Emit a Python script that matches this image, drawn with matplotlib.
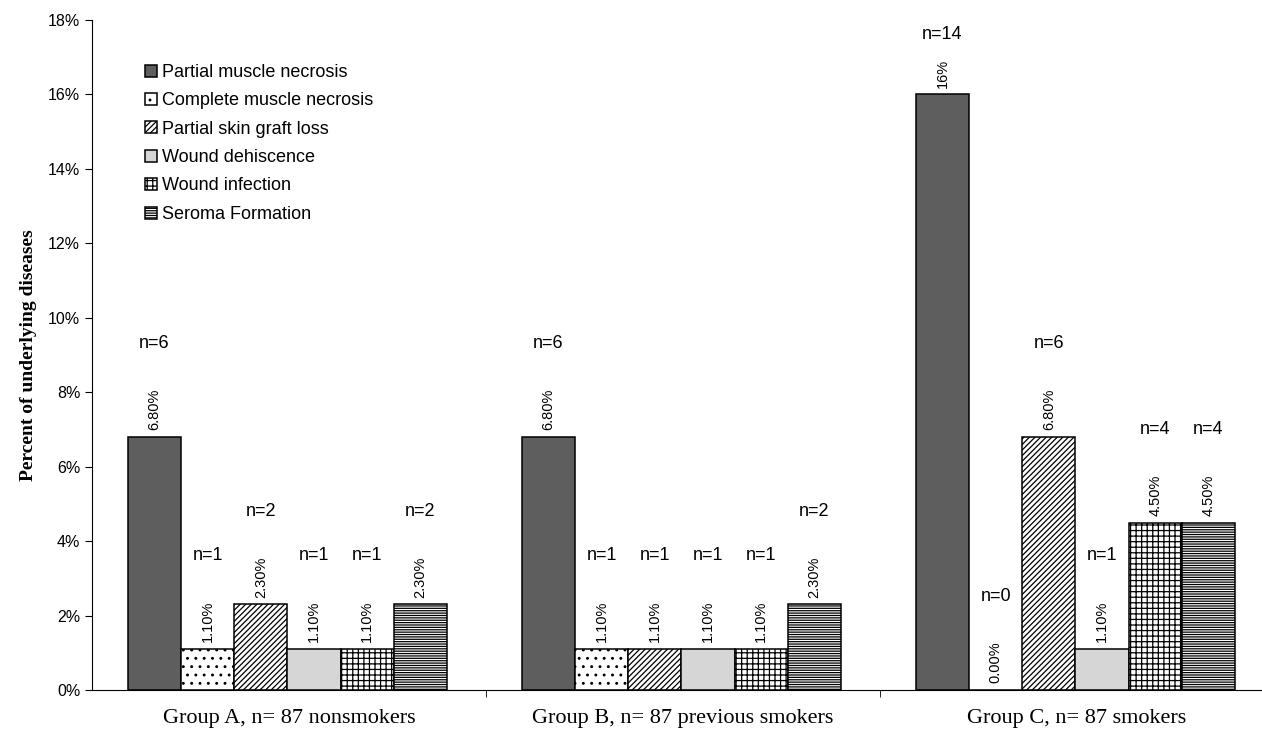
import matplotlib
matplotlib.use('Agg')
import matplotlib.pyplot as plt
import numpy as np

groups = ['Group A, n= 87 nonsmokers', 'Group B, n= 87 previous smokers', 'Group C, n= 87 smokers']
series = ['Partial muscle necrosis', 'Complete muscle necrosis', 'Partial skin graft loss',
          'Wound dehiscence', 'Wound infection', 'Seroma Formation']
# percent per group, one list per complication
values = [
    [6.8, 6.8, 16.0],
    [1.1, 1.1, 0.0],
    [2.3, 1.1, 6.8],
    [1.1, 1.1, 1.1],
    [1.1, 1.1, 4.5],
    [2.3, 2.3, 4.5],
]
pct_labels = [
    ['6.80%', '6.80%', '16%'],
    ['1.10%', '1.10%', '0.00%'],
    ['2.30%', '1.10%', '6.80%'],
    ['1.10%', '1.10%', '1.10%'],
    ['1.10%', '1.10%', '4.50%'],
    ['2.30%', '2.30%', '4.50%'],
]
counts = [
    [6, 6, 14],
    [1, 1, 0],
    [2, 1, 6],
    [1, 1, 1],
    [1, 1, 4],
    [2, 2, 4],
]
yticks = [0, 2, 4, 6, 8, 10, 12, 14, 16, 18]

plt.rcParams['hatch.linewidth'] = 0.9
fig = plt.figure(figsize=(12.62, 7.29), dpi=100)
ax = fig.add_axes([92/1262, 39/729, 1182/1262, 670/729])

faces = ['#5e5e5e', 'white', 'white', '#d6d6d6', 'white', 'white']
hatches = [None, '..', '//////', None, '+++', '-------']
w = 0.135
x = np.arange(len(groups))
for i in range(len(series)):
    xs = x + (i - 2.5) * w - 0.004
    ax.bar(xs, values[i], width=w, color=faces[i], hatch=hatches[i],
           edgecolor='black', linewidth=1.1, label=series[i])
    for j in range(len(groups)):
        ax.text(xs[j], values[i][j] + 0.18, pct_labels[i][j], rotation=90,
                ha='center', va='bottom', fontsize=10.5, family='Liberation Sans')
        # count label above the bar, kept inside the top of the chart
        ny = min(values[i][j] + 2.5, 17.6)
        ax.text(xs[j], ny, 'n=%d' % counts[i][j],
                ha='center', va='center', fontsize=13, family='Liberation Sans')

ax.set_xlim(-0.5, 2.5)
ax.set_ylim(0, 18)
ax.set_yticks(yticks)
ax.set_yticklabels(['%d%%' % t for t in yticks], family='Liberation Sans', fontsize=11.5)
ax.set_xticks(x)
ax.set_xticklabels(groups, family='Liberation Serif', fontsize=16)
ax.tick_params(axis='x', length=0, pad=14)
ax.set_xticks([0.5, 1.5], minor=True)
ax.tick_params(axis='x', which='minor', length=5, direction='out')
ax.tick_params(axis='y', length=5, direction='out')
ax.spines['top'].set_visible(False)
ax.spines['right'].set_visible(False)
ax.set_ylabel('Percent of underlying diseases', family='Liberation Serif',
              fontsize=14, fontweight='bold', labelpad=8)

ax.legend(loc='upper left', bbox_to_anchor=(145/1262, 1 - 64/729),
          bbox_transform=fig.transFigure,
          frameon=False, prop={'family': 'Liberation Sans', 'size': 13},
          handlelength=0.65, handleheight=0.65, handletextpad=0.3,
          labelspacing=0.63, borderaxespad=0, borderpad=0)

fig.savefig('out.png', dpi=100)
